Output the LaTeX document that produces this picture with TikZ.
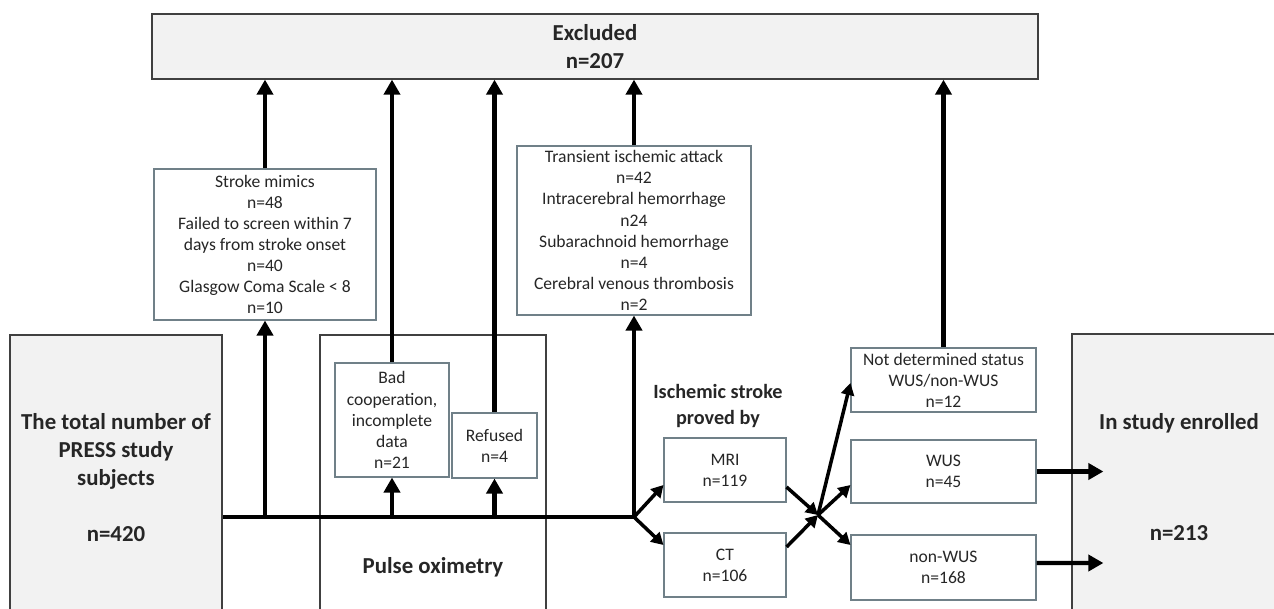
\documentclass[tikz,border=0pt]{standalone}
\usepackage{fontspec}
\setmainfont{Carlito}
\usetikzlibrary{arrows.meta, calc}
\definecolor{boxgray}{RGB}{242,242,242}
\definecolor{edgegray}{RGB}{64,64,64}
\definecolor{thinedge}{RGB}{112,128,136}
\definecolor{txtgray}{RGB}{38,38,38}

\begin{document}
\begin{tikzpicture}[
  x=0.2mm, y=-0.2mm,
  bigbox/.style={draw=edgegray, line width=0.7pt, fill=boxgray, inner sep=0pt,
    align=center, text=txtgray, font=\fontsize{13}{16}\selectfont\bfseries},
  smallbox/.style={draw=thinedge, line width=0.6pt, fill=white, inner sep=0pt,
    align=center, text=txtgray, font=\fontsize{10}{12}\selectfont},
  heading/.style={align=center, text=txtgray, font=\fontsize{13}{16}\selectfont\bfseries},
  flow/.style={line width=2.3pt, -{Triangle[length=0.3cm, width=0.32cm]}},
  branch/.style={line width=2pt, -{Triangle[length=0.24cm, width=0.26cm]}},
]
  \path[use as bounding box, fill=white] (0,0) rectangle (1274,608);

  % Excluded box on top
  \node[bigbox, minimum width=17.72cm, minimum height=1.3cm] (excl) at (595,46.5) {Excluded\\n=207};

  % Reasons for exclusion
  \node[smallbox, minimum width=4.44cm, minimum height=3.02cm] (mimic) at (265,244.5)
    {Stroke mimics\\n=48\\Failed to screen within 7\\days from stroke onset\\n=40\\Glasgow Coma Scale < 8\\n=10};
  \node[smallbox, minimum width=4.68cm, minimum height=3.38cm] (tia) at (634,230.5)
    {Transient ischemic attack\\n=42\\Intracerebral hemorrhage\\n24\\Subarachnoid hemorrhage\\n=4\\Cerebral venous thrombosis\\n=2};

  % Bottom row
  \node[bigbox, minimum width=4.24cm, minimum height=5.7cm] (total) at (116,477.5)
    {The total number of\\PRESS study\\subjects\\[16pt]n=420};
  \node[bigbox, fill=white, minimum width=4.52cm, minimum height=5.7cm] (pulse) at (433,477.5) {};
  \node[heading] (pulselabel) at (433,567) {Pulse oximetry};
  \node[smallbox, minimum width=2.28cm, minimum height=2.28cm] (badcoop) at (392,420)
    {Bad\\cooperation,\\incomplete\\data\\n=21};
  \node[smallbox, minimum width=1.7cm, minimum height=1.3cm] (refused) at (494.5,445.5) {Refused\\n=4};

  \node[heading, font=\fontsize{11.5}{14.5}\selectfont\bfseries] (ischlabel) at (718,406) {Ischemic stroke\\proved by};
  \node[smallbox, minimum width=2.44cm, minimum height=1.28cm] (mri) at (725,470) {MRI\\n=119};
  \node[smallbox, minimum width=2.44cm, minimum height=1.28cm] (ct) at (725,565) {CT\\n=106};

  \node[smallbox, minimum width=3.7cm, minimum height=1.28cm] (notdet) at (943.5,380)
    {Not determined status\\WUS/non-WUS\\n=12};
  \node[smallbox, minimum width=3.7cm, minimum height=1.26cm] (wus) at (943.5,471.5) {WUS\\n=45};
  \node[smallbox, minimum width=3.7cm, minimum height=1.3cm] (nonwus) at (943.5,567.5) {non-WUS\\n=168};

  \node[bigbox, minimum width=4.28cm, minimum height=5.72cm] (enrolled) at (1179,477)
    {In study enrolled\\[47pt]n=213};

  % Main flow
  \coordinate (split) at (634,517);
  \coordinate (join) at (818,515);
  \draw[flow] (total.east |- split) -- (split) -- (tia.south);
  \draw[flow] (mimic.south |- split) -- (mimic.south);
  \draw[flow] (badcoop.south |- split) -- (badcoop.south);
  \draw[flow] (refused.south |- split) -- (refused.south);

  % up to Excluded
  \foreach \b in {mimic, badcoop, refused, tia, notdet}
    \draw[flow] (\b.north) -- (\b.north |- excl.south);

  % Imaging and WUS split
  \draw[branch] (split) -- ([yshift=-0.3cm]mri.west);
  \draw[branch] (split) -- ([yshift=0.4cm]ct.west);
  \draw[branch] ([yshift=-0.34cm]mri.east) -- (join);
  \draw[branch] ([yshift=0.36cm]ct.east) -- (join);
  \draw[branch] (join) -- ([yshift=-0.06cm]notdet.west);
  \draw[branch] (join) -- ([yshift=-0.27cm]wus.west);
  \draw[branch] (join) -- ([yshift=0.45cm]nonwus.west);

  % Enrolled
  \draw[flow] (wus.east) -- ($(enrolled.west |- wus.east)+(32,0)$);
  \draw[flow] ([yshift=0.09cm]nonwus.east) -- ($(enrolled.west |- nonwus.east)+(32,-4.5)$);
\end{tikzpicture}
\end{document}
